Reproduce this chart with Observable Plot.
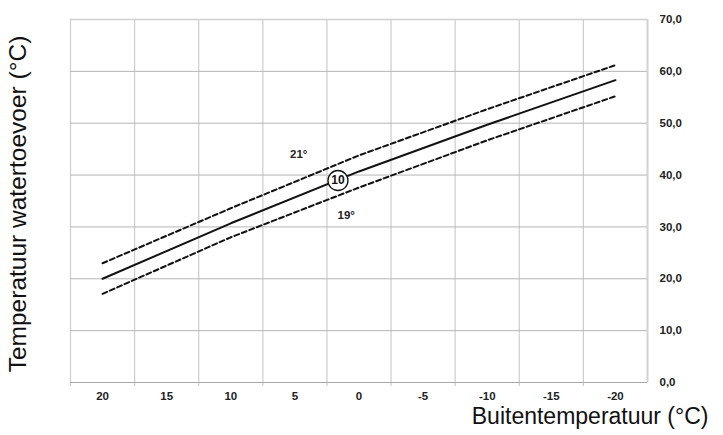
<!DOCTYPE html>
<html>
<head>
<meta charset="utf-8">
<script src="https://cdn.jsdelivr.net/npm/d3@7"></script>
<script src="https://cdn.jsdelivr.net/npm/@observablehq/plot@0.6"></script>
<style>
  html, body { margin: 0; padding: 0; background: #fff; overflow: hidden; }
  #chart { position: relative; width: 723px; height: 435px; }
</style>
</head>
<body>
<div id="chart"></div>
<script>
// Outdoor temperature (°C) sample points
const outdoor = [20, 10, 0, -10, -20];
// Flow temperature curve (setpoint 20°)
const curve20 = [20, 30.7, 40.7, 49.7, 58.3];
// Curve for room setpoint 21°
const curve21 = [23, 33.6, 43.8, 52.7, 61.2];
// Curve for room setpoint 19°
const curve19 = [17.1, 28.0, 37.6, 46.7, 55.2];

const xTickValues = [20, 15, 10, 5, 0, -5, -10, -15, -20];
const xGridValues = [22.5, 17.5, 12.5, 7.5, 2.5, -2.5, -7.5, -12.5, -17.5];
const yTickValues = [0, 10, 20, 30, 40, 50, 60, 70];
const yGridValues = [10, 20, 30, 40, 50, 60];

const curveLabelText = ["21°", "19°"];
const curveLabelX = [4.7, 1.0];
const curveLabelY = [44.0, 32.2];

const markerText = ["10"];
const markerX = [1.64];
const markerY = [38.95];

const toRows = (ys) => outdoor.map((x, i) => ({x, y: ys[i]}));
const labels = curveLabelText.map((t, i) => ({t, x: curveLabelX[i], y: curveLabelY[i]}));
const markers = markerText.map((t, i) => ({t, x: markerX[i], y: markerY[i]}));

const chart = Plot.plot({
  width: 723,
  height: 435,
  marginLeft: 70,
  marginRight: 76,
  marginTop: 19,
  marginBottom: 53,
  style: {fontFamily: "'Liberation Sans', Arial, sans-serif", background: "#fff", overflow: "visible"},
  x: {domain: [22.5, -22.5], axis: null},
  y: {domain: [0, 70], axis: null},
  marks: [
    Plot.ruleX(xGridValues, {stroke: "#cdcdcd", strokeWidth: 1.2, insetBottom: -4}),
    Plot.ruleY(yGridValues, {stroke: "#b5b5b5", strokeWidth: 1}),
    Plot.ruleY([70], {stroke: "#cfcfcf", strokeWidth: 1.5}),
    Plot.ruleY([0], {stroke: "#a8a8a8", strokeWidth: 1.2}),
    Plot.ruleX([-22.5], {stroke: "#d2d2d2", strokeWidth: 2}),
    Plot.line(toRows(curve21), {x: "x", y: "y", stroke: "#111", strokeWidth: 2, strokeDasharray: "5,3"}),
    Plot.line(toRows(curve19), {x: "x", y: "y", stroke: "#111", strokeWidth: 2, strokeDasharray: "5,3"}),
    Plot.line(toRows(curve20), {x: "x", y: "y", stroke: "#111", strokeWidth: 2}),
    Plot.dot(markers, {x: "x", y: "y", r: 10, fill: "#fff", stroke: "#111", strokeWidth: 1.3}),
    Plot.text(markers, {x: "x", y: "y", text: "t", fontSize: 12, fontWeight: "bold", fill: "#111"}),
    Plot.text(labels, {x: "x", y: "y", text: "t", fontSize: 11.5, fontWeight: "bold", fill: "#222"}),
    Plot.axisX(xTickValues, {tickSize: 0, tickPadding: 9, fontSize: 11.5, fontWeight: "bold", fill: "#222", tickFormat: d => String(d), label: null}),
    Plot.axisY(yTickValues, {anchor: "right", tickSize: 0, tickPadding: 12, fontSize: 11.5, fontWeight: "bold", fill: "#222", tickFormat: d => d.toFixed(1).replace(".", ","), label: null, textAnchor: "start"}),
    Plot.text(["Buitentemperatuur (°C)"], {frameAnchor: "bottom-right", dx: 61, dy: 41, text: d => d, fontSize: 23, textAnchor: "end", fill: "#111"}),
    Plot.text(["Temperatuur watertoevoer (°C)"], {frameAnchor: "left", dx: -52, dy: 3, rotate: -90, text: d => d, fontSize: 24.5, textAnchor: "middle", fill: "#111"})
  ]
});
document.getElementById("chart").appendChild(chart);
</script>
</body>
</html>
